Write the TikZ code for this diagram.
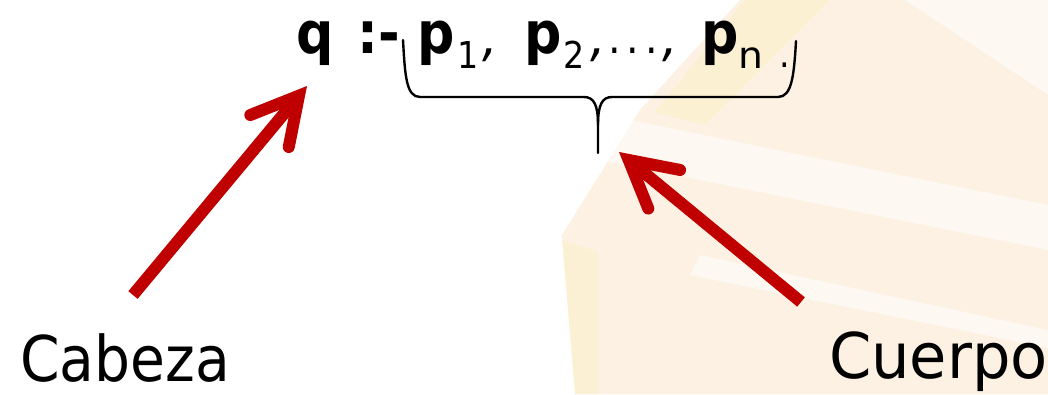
\documentclass[tikz,border=0pt]{standalone}
\usepackage{fontspec}
\setmainfont{DejaVu Sans Condensed}
\usetikzlibrary{arrows.meta}
\definecolor{arrowred}{RGB}{192,0,0}
\definecolor{bgpeach}{RGB}{251,236,214}
\definecolor{bgyellow}{RGB}{252,240,204}
\begin{document}
\begin{tikzpicture}[x=1pt,y=-1pt,
  labeltext/.style={inner sep=0pt, font=\fontsize{63}{70}\selectfont, anchor=base west},
  bigsym/.style={inner sep=0pt, font=\bfseries\fontsize{58}{66}\selectfont, anchor=base west},
  subsym/.style={inner sep=0pt, font=\fontsize{37}{42}\selectfont, anchor=base west},
  punct/.style={inner sep=0pt, font=\fontsize{54}{60}\selectfont, anchor=base west},
  dotsym/.style={inner sep=0pt, font=\fontsize{44}{50}\selectfont, anchor=base west},
  redarrow/.style={draw=arrowred, line width=12pt,
    -{Straight Barb[length=46pt, width=50pt, line cap=round, line join=miter]}},
  bracepath/.style={draw=black, line width=2.4pt, line cap=round},
  bgpatch/.style={fill=bgpeach, draw=none},
  bgwhite/.style={fill=white, draw=none, opacity=0.55}]
\useasboundingbox (0,0) rectangle (1048,394);
\fill[white] (0,0) rectangle (1048,394);
% faint background rays
\path[bgpatch, opacity=0.7] (740,0) -- (1048,0) -- (1048,394) -- (575,394) -- (562,235) -- (640,110) -- cycle;
\path[fill=bgyellow, opacity=0.7] (745,0) -- (830,0) -- (705,125) -- (655,112) -- cycle;
\path[fill=bgyellow, opacity=0.6] (562,240) -- (598,252) -- (598,394) -- (575,394) -- cycle;
\path[bgwhite] (620,118) -- (1048,205) -- (1048,250) -- (600,160) -- cycle;
\path[bgwhite] (905,0) -- (1048,0) -- (1048,95) -- cycle;
\path[bgwhite] (700,255) -- (1048,330) -- (1048,348) -- (690,275) -- cycle;
% formula
\node[bigsym] (q) at (296,53) {q};
\node[bigsym] (colhy) at (357,53) {:-};
\node[bigsym] (p1) at (417,53) {p};
\node[subsym] (s1) at (457,68) {1};
\node[punct] (c1) at (482,55) {\textit{,}};
\node[bigsym] (p2) at (524,53) {p};
\node[subsym] (s2) at (563,68) {2};
\node[punct] (cma) at (590,55) {\textit{,}};
\node[dotsym] (dots) at (608,53) {.\hspace{6pt}.\hspace{6pt}.};
\node[punct] (cmb) at (662,55) {\textit{,}};
\node[bigsym] (pn) at (701,53) {p};
\node[subsym] (sn) at (738,68) {\scalebox{1.18}[1]{n}};
\node[subsym] (dot) at (779,67) {.};
% brace
\draw[bracepath] (403,40) .. controls (405,75) and (406,97) .. (420,97) -- (584,97)
  .. controls (594,97) and (598,105) .. (598,125) -- (598,153);
\draw[bracepath] (598,125) .. controls (598,105) and (602,97) .. (612,97) -- (778,97)
  .. controls (792,97) and (794,75) .. (796,41);
% labels
\node[labeltext] (cabeza) at (20,381) {Cabeza};
\node[labeltext] (cuerpo) at (829,378) {\scalebox{1.07}[1]{Cuerpo}};
% arrows
\coordinate (cabtail) at (133,295);
\coordinate (qtip) at (307,86);
\coordinate (cuetail) at (801,302);
\coordinate (bracetip) at (619,152);
\draw[redarrow] (cabtail) -- (qtip);
\draw[redarrow] (cuetail) -- (bracetip);
\end{tikzpicture}
\end{document}
